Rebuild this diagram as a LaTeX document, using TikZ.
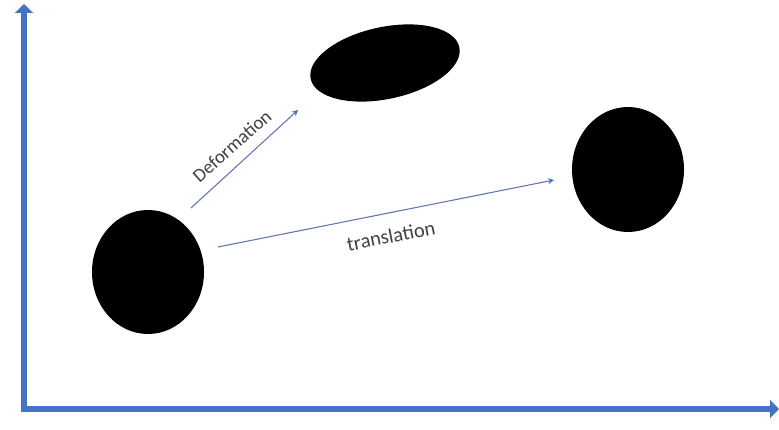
\documentclass[tikz,border=0pt]{standalone}
\usepackage{fontspec}
\setmainfont{Carlito}
\usetikzlibrary{shapes.geometric,arrows.meta}
\definecolor{axisblue}{HTML}{4472C4}
\definecolor{labelgray}{HTML}{404040}
\definecolor{arrowline}{HTML}{6478B4}
\begin{document}
\begin{tikzpicture}[x=1pt,y=-1pt,
  blob/.style={ellipse,fill=black,inner sep=0pt},
  axis/.style={axisblue,line width=6pt,-{Triangle[width=18pt,length=9pt]}},
  motion/.style={arrowline,line width=1.1pt,-{Stealth[width=6pt,length=6pt,color=axisblue]}},
  lbl/.style={text=labelgray,font=\fontsize{19}{22}\selectfont,inner sep=0pt}]
\useasboundingbox (0,0) rectangle (779,430);
% coordinate axes
\coordinate (origin) at (24,409);
\coordinate (ytop) at (24,4);
\coordinate (xend) at (779,409);
\draw[axis] ([yshift=3pt]origin) -- (ytop);
\draw[axis] ([xshift=-3pt]origin) -- (xend);
% bodies
\node[blob,minimum width=112pt,minimum height=124pt] (start) at (148,272) {};
\node[blob,minimum width=152pt,minimum height=72pt,rotate=12] (deformed) at (385,63) {};
\node[blob,minimum width=112pt,minimum height=125pt] (moved) at (628,169.5) {};
% motion arrows
\coordinate (defA) at (191,208);
\coordinate (defB) at (298,110);
\coordinate (trA) at (218,247);
\coordinate (trB) at (554,180);
\draw[motion] (defA) -- (defB);
\draw[motion] (trA) -- (trB);
\node[lbl,rotate=41.5] (deflbl) at (232,146) {Deformation};
\node[lbl,rotate=11,font=\fontsize{20.5}{24}\selectfont] (trlbl) at (391,236) {translation};
\end{tikzpicture}
\end{document}
